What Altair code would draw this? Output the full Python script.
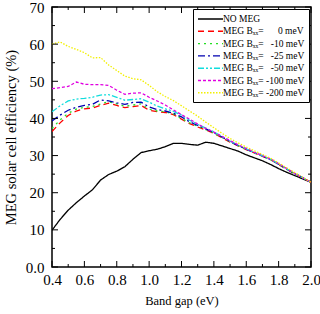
import altair as alt
import pandas as pd

# Band gap grid (eV)
band_gap = [0.40, 0.45, 0.50, 0.55, 0.60, 0.65, 0.70, 0.75, 0.80, 0.85, 0.90,
            0.95, 1.00, 1.05, 1.10, 1.15, 1.20, 1.25, 1.30, 1.35, 1.40, 1.45,
            1.50, 1.55, 1.60, 1.65, 1.70, 1.75, 1.80, 1.85, 1.90, 1.95, 2.00]

# Efficiency (%) for each case
eff_no_meg = [9.9, 12.8, 15.3, 17.3, 19.1, 20.8, 23.4, 24.9, 25.8, 27.0, 29.0,
              30.8, 31.3, 31.7, 32.4, 33.3, 33.3, 33.0, 32.8, 33.6, 33.3, 32.6,
              31.9, 31.2, 30.2, 29.4, 28.6, 27.6, 26.5, 25.5, 24.6, 23.7, 22.8]
eff_0 = [36.5, 38.8, 40.8, 42.0, 42.6, 42.8, 43.5, 44.1, 43.5, 42.9, 43.2,
         43.5, 42.2, 41.8, 41.6, 41.0, 39.8, 38.6, 37.7, 36.9, 36.0, 34.8,
         33.6, 32.6, 31.6, 30.7, 29.8, 28.9, 27.6, 26.3, 25.1, 24.0, 22.8]
eff_10 = [37.3, 39.6, 41.4, 42.5, 43.0, 43.2, 43.9, 44.5, 43.9, 43.3, 43.6,
          43.9, 42.5, 42.0, 41.8, 41.2, 40.0, 38.8, 37.9, 37.0, 36.1, 34.9,
          33.7, 32.7, 31.7, 30.7, 29.8, 28.9, 27.6, 26.3, 25.1, 24.0, 22.8]
eff_25 = [39.3, 40.9, 42.2, 43.0, 43.5, 43.8, 45.0, 44.7, 44.2, 43.8, 44.3,
          44.4, 43.1, 42.4, 42.0, 41.4, 40.4, 39.1, 38.1, 37.2, 36.2, 35.0,
          33.8, 32.7, 31.7, 30.8, 29.9, 28.9, 27.7, 26.4, 25.1, 24.0, 22.8]
eff_50 = [41.8, 43.4, 44.7, 45.2, 45.4, 45.7, 46.3, 46.4, 45.7, 44.9, 45.1,
          45.3, 44.4, 43.3, 42.6, 41.9, 40.9, 39.5, 38.4, 37.4, 36.4, 35.1,
          33.9, 32.8, 31.8, 30.8, 29.9, 29.0, 27.7, 26.4, 25.2, 24.0, 22.8]
eff_100 = [48.0, 48.3, 48.6, 49.8, 49.2, 49.1, 49.1, 48.9, 47.6, 46.5, 46.8,
           46.9, 45.7, 44.7, 43.6, 42.3, 41.0, 39.8, 38.5, 37.3, 36.3, 35.2,
           34.0, 32.9, 31.9, 30.9, 30.0, 29.1, 27.8, 26.5, 25.2, 24.0, 22.8]
eff_200 = [60.0, 60.6, 59.4, 58.6, 57.7, 56.3, 56.4, 54.4, 52.9, 51.4, 50.7,
           50.4, 48.9, 47.2, 45.9, 44.8, 43.4, 42.0, 40.6, 39.0, 37.5, 36.0,
           34.6, 33.4, 32.3, 31.3, 30.3, 29.3, 28.0, 26.7, 25.4, 24.1, 22.8]

FS = "\u2007"   # figure space (digit width)
PS = "\u2008"   # punctuation space
series_names = [
    "NO MEG",
    "MEG B\u2093\u2093= " + PS + FS + FS + "0 meV",
    "MEG B\u2093\u2093= " + FS + "-10 meV",
    "MEG B\u2093\u2093= " + FS + "-25 meV",
    "MEG B\u2093\u2093= " + FS + "-50 meV",
    "MEG B\u2093\u2093= -100 meV",
    "MEG B\u2093\u2093= -200 meV",
]
series_values = [eff_no_meg, eff_0, eff_10, eff_25, eff_50, eff_100, eff_200]
series_colors = ["#000000", "#ff0000", "#22e022", "#0000b0", "#11dddd", "#e000e0", "#f2f000"]
series_dashes = [[1, 0], [6, 4], [2, 4], [7, 3, 2, 3], [6, 2, 2, 2, 2, 2], [3, 2], [1.5, 1.5]]

x_major = [0.4, 0.6, 0.8, 1.0, 1.2, 1.4, 1.6, 1.8, 2.0]
x_minor = [0.5, 0.7, 0.9, 1.1, 1.3, 1.5, 1.7, 1.9]
y_major = [0, 10, 20, 30, 40, 50, 60, 70]
y_minor = [5, 15, 25, 35, 45, 55, 65]

rows = []
for name, vals in zip(series_names, series_values):
    for g, e in zip(band_gap, vals):
        rows.append({"gap": g, "eff": e, "series": name})
df = pd.DataFrame(rows)

W, H = 259, 260
FONT = "Liberation Serif"

x_scale = alt.Scale(domain=[0.4, 2.0], nice=False, zero=False)
y_scale = alt.Scale(domain=[0, 70], nice=False)

x_axis = alt.Axis(values=x_major, format=".1f", title="Band gap (eV)",
                  domain=False, ticks=False, grid=False, labelFlush=False,
                  labelFont=FONT, labelFontSize=15, labelColor="black",
                  labelPadding=5, titleFont=FONT, titleFontSize=12.5,
                  titleFontWeight="normal", titleColor="black", titlePadding=7)
y_axis = alt.Axis(values=y_major, title="MEG solar cell efficiency (%)",
                  labelExpr="datum.value == 0 ? '0.0' : format(datum.value, 'd')",
                  domain=False, ticks=False, grid=False, labelFlush=False,
                  labelFont=FONT, labelFontSize=15, labelColor="black",
                  labelPadding=8, titleFont=FONT, titleFontSize=14.5,
                  titleFontWeight="normal", titleColor="black", titlePadding=7)

legend = alt.Legend(
    title=None, orient="top-right", offset=2,
    fillColor="white", strokeColor="black", padding=4,
    labelFont=FONT, labelFontSize=9.5, labelColor="black",
    symbolType="M-1,0H4", symbolSize=100, symbolStrokeWidth=1.4,
    labelOffset=14, rowPadding=1.3,
)

lines = alt.Chart(df).mark_line(strokeWidth=1.3, clip=True).encode(
    x=alt.X("gap:Q", scale=x_scale, axis=x_axis),
    y=alt.Y("eff:Q", scale=y_scale, axis=y_axis),
    color=alt.Color("series:N", scale=alt.Scale(domain=series_names, range=series_colors),
                    legend=legend),
    strokeDash=alt.StrokeDash("series:N", scale=alt.Scale(domain=series_names, range=series_dashes),
                              legend=legend),
    order=alt.Order("gap:Q"),
)

def x_ticks(values, length):
    d = pd.DataFrame({"gap": values})
    bottom = alt.Chart(d).mark_rule(color="black", strokeWidth=1).encode(
        x=alt.X("gap:Q", scale=x_scale, axis=x_axis), y=alt.value(H), y2=alt.value(H - length))
    top = alt.Chart(d).mark_rule(color="black", strokeWidth=1).encode(
        x=alt.X("gap:Q", scale=x_scale, axis=x_axis), y=alt.value(0), y2=alt.value(length))
    return [bottom, top]

def y_ticks(values, length):
    d = pd.DataFrame({"eff": values})
    left = alt.Chart(d).mark_rule(color="black", strokeWidth=1).encode(
        y=alt.Y("eff:Q", scale=y_scale, axis=y_axis), x=alt.value(0), x2=alt.value(length))
    right = alt.Chart(d).mark_rule(color="black", strokeWidth=1).encode(
        y=alt.Y("eff:Q", scale=y_scale, axis=y_axis), x=alt.value(W), x2=alt.value(W - length))
    return [left, right]

tick_layers = x_ticks(x_major, 6) + x_ticks(x_minor, 3) + y_ticks(y_major, 6) + y_ticks(y_minor, 3)

chart = alt.layer(lines, *tick_layers).properties(
    width=W, height=H,
    autosize=alt.AutoSizeParams(type="none"),
    padding={"left": 52, "top": 7, "right": 9, "bottom": 47},
    background="white",
).configure_view(stroke="black", strokeWidth=1.5)

chart.save("out.html", embed_options={"renderer": "svg", "actions": False})
